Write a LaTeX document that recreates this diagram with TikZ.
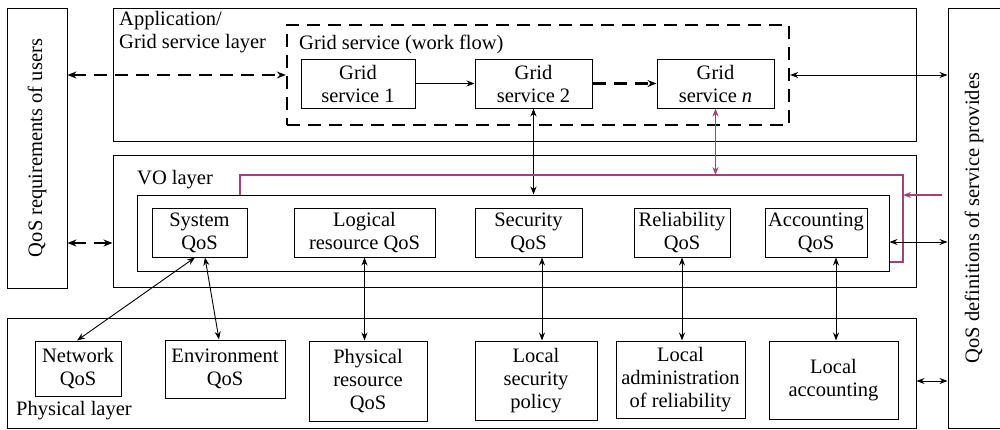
\documentclass[tikz,border=0pt]{standalone}
\usepackage{fontspec}
\setmainfont{Liberation Serif}
\usetikzlibrary{arrows.meta,calc}
\definecolor{plum}{RGB}{165,65,120}
\begin{document}
\begin{tikzpicture}[x=1pt,y=-1pt,
  every node/.style={font=\fontsize{20.5pt}{23pt}\selectfont},
  box/.style={draw,line width=1pt,inner sep=0pt,align=center},
  layer/.style={draw,line width=1pt,inner sep=0pt},
  lbl/.style={inner sep=0pt,anchor=west,align=left},
  con/.style={line width=0.9pt,>={Stealth[length=8pt,width=6pt]}},
  dsh/.style={line width=2.3pt,dash pattern=on 13pt off 8pt,>={Stealth[length=9pt,width=7pt]}},
  pur/.style={con,draw=plum,line width=1.1pt}]
\useasboundingbox (0,0) rectangle (1000,429);
% side boxes
\node[box,minimum width=60pt,minimum height=280pt] (users) at (37,148) {};
\node[rotate=90] (userst) at (37,148) {QoS requirements of users};
\node[box,minimum width=60pt,minimum height=420pt] (prov) at (978,218) {};
\node[rotate=90] (provt) at (974,218) {QoS definitions of service provides};
% application layer
\node[layer,minimum width=803pt,minimum height=133pt] (app) at (514.5,74.5) {};
\node[lbl,anchor=north west] (appt) at (119,11) {Application/\\Grid service layer};
\node[layer,dash pattern=on 13pt off 8pt,line width=2.3pt,minimum width=502pt,minimum height=100pt] (flow) at (538,75) {};
\node[lbl] (flowt) at (299,44) {Grid service (work flow)};
\node[box,minimum width=114pt,minimum height=49pt] (gs1) at (358,83.5) {Grid\\service 1};
\node[box,minimum width=117pt,minimum height=49pt] (gs2) at (533.5,83.5) {Grid\\service 2};
\node[box,minimum width=117pt,minimum height=49pt] (gsn) at (715.5,83.5) {Grid\\service \textit{n}};
% VO layer
\node[layer,minimum width=803pt,minimum height=132pt] (vo) at (514.5,221) {};
\node[lbl] (vot) at (137,180) {VO layer};
\node[layer,minimum width=752pt,minimum height=76pt] (inner) at (513,233) {};
\node[box,minimum width=95pt,minimum height=49pt] (sys) at (199.5,232.5) {System\\QoS};
\node[box,minimum width=141pt,minimum height=49pt] (logi) at (364.5,232.5) {Logical\\resource QoS};
\node[box,minimum width=107pt,minimum height=49pt] (secq) at (528.5,232.5) {Security\\QoS};
\node[box,minimum width=96pt,minimum height=49pt] (reli) at (682,232.5) {Reliability\\QoS};
\node[box,minimum width=102pt,minimum height=49pt] (acct) at (816,232.5) {Accounting\\QoS};
% physical layer
\node[layer,minimum width=909pt,minimum height=110pt] (phys) at (461.5,373) {};
\node[lbl] (physt) at (16,411) {Physical layer};
\node[box,minimum width=86pt,minimum height=55pt] (net) at (78,368.5) {Network\\QoS};
\node[box,minimum width=120pt,minimum height=58pt] (env) at (225,369) {Environment\\QoS};
\node[box,minimum width=118pt,minimum height=80pt] (pres) at (368,381) {Physical\\resource\\QoS};
\node[box,minimum width=122pt,minimum height=79pt] (lsec) at (536,380.5) {Local\\security\\policy};
\node[box,minimum width=129pt,minimum height=77pt] (ladm) at (680.5,379.5) {Local\\administration\\of reliability};
\node[box,minimum width=129pt,minimum height=78pt] (lacc) at (833.5,380) {Local\\accounting};
% helper coordinates
\coordinate (p1) at (240,175);
\coordinate (p2) at (903,175);
\coordinate (p3) at (903,262);
\coordinate (q) at (942,195);
\coordinate (ya) at (0,242);
\coordinate (yu) at (0,243);
\coordinate (yp) at (0,381);
\coordinate (xs) at (542,0);
\coordinate (xa) at (836,0);
% connectors top
\draw[dsh,<->] (flow.west -| users.east) -- (flow.west);
\draw[con,->] (gs1.east) -- (gs2.west);
\draw[dsh,->] (gs2.east) -- (gsn.west);
\draw[con,<->] (flow.east) -- (flow.east -| prov.west);
\draw[con,<->] (gs2.south) -- (gs2.south |- inner.north);
% purple
\draw[pur] (inner.north -| p1) -- (p1) -- (p2) -- (p3) -- (p3 -| inner.east);
\draw[pur,<->] (gsn.south) -- (gsn.south |- p1);
\draw[pur,->] (q) -- (q -| p2);
% middle
\draw[con,<->] (inner.east |- ya) -- (prov.west |- ya);
\draw[dsh,<->] (users.east |- yu) -- (vo.west |- yu);
\draw[con,<->] ($(sys.south)+(-4.5,0)$) -- ($(net.north)+(-1,0)$);
\draw[con,<->] ($(sys.south)+(5.5,0)$) -- ($(env.north)+(-6,0)$);
\draw[con,<->] (logi.south) -- (logi.south |- pres.north);
\draw[con,<->] (secq.south -| xs) -- (lsec.north -| xs);
\draw[con,<->] (reli.south) -- (reli.south |- ladm.north);
\draw[con,<->] (acct.south -| xa) -- (lacc.north -| xa);
\draw[con,<->] (phys.east |- yp) -- (prov.west |- yp);
\end{tikzpicture}
\end{document}
